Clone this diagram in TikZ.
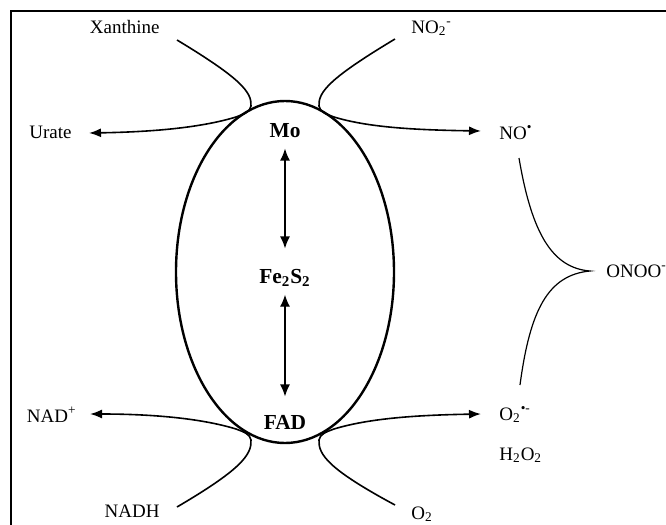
\documentclass[tikz,border=0pt]{standalone}
\usepackage{fontspec}
\setmainfont{Liberation Serif}
\usetikzlibrary{arrows.meta}

\tikzset{
  lbl/.style={inner sep=0pt, font=\fontsize{9.5}{11}\selectfont},
  core/.style={anchor=base, inner sep=0pt, font=\fontsize{10.7}{12}\selectfont\bfseries},
  flow/.style={line width=0.8pt},
  prod/.style={flow, -{Latex[length=6pt,width=4.5pt]}},
  dbl/.style={line width=0.65pt, {Latex[length=6pt,width=5pt]}-{Latex[length=6pt,width=5pt]}},
}

\begin{document}
\begin{tikzpicture}[x=0.5pt,y=-0.5pt]
        \useasboundingbox (0,0) rectangle (666,525);
        % frame
        \draw[line width=1.3pt] (11,525) -- (11,11) -- (666,11);

        % enzyme
        \draw[line width=1.2pt] (285,272) ellipse [x radius=109, y radius=171];
        \coordinate (tl) at (251,106);
        \coordinate (tr) at (319,106);
        \coordinate (bl) at (251,440);
        \coordinate (br) at (319,440);

        \node[core] (mo) at (285,137) {Mo};
        \node[core] (fes) at (285,283) {Fe\textsubscript{2}S\textsubscript{2}};
        \node[core] (fad) at (285,429) {FAD};
        \draw[dbl, shorten <=5.5pt, shorten >=10pt] (mo.south) -- (fes.north);
        \draw[dbl, shorten <=4pt, shorten >=9pt] (fes.south) -- (fad.north);

        % substrates and products
        \node[lbl, anchor=base east] (xan) at (160,33) {Xanthine};
        \node[lbl, anchor=base east] (urate) at (72,138) {Urate};
        \node[lbl, anchor=base west] (no2) at (411,33) {NO\textsubscript{2}\textsuperscript{-}};
        \node[lbl, anchor=base west] (no) at (499,139) {NO\textsuperscript{\textbullet}};
        \node[lbl, anchor=base west] (onoo) at (606,277) {ONOO\textsuperscript{-}};
        \node[lbl, anchor=base east] (nad) at (77,422) {NAD\textsuperscript{+}};
        \node[lbl, anchor=base east] (nadh) at (160,517) {NADH};
        \node[lbl, anchor=base west] (sox) at (499,420) {O\textsubscript{2}\textsuperscript{\textbullet-}};
        \node[lbl, anchor=base west] (hpo) at (499,460) {H\textsubscript{2}O\textsubscript{2}};
        \node[lbl, anchor=base west] (oxy) at (411,519) {O\textsubscript{2}};

        % Mo site
        \draw[prod] ([shift={(17,7)}]xan.base east) .. controls (240,78) and (252,92) .. (tl)
            .. controls (250,112) and (244,114) .. (236,117)
            .. controls (200,128) and (150,132) .. ([shift={(17,-5)}]urate.base east);
        \draw[prod] ([shift={(-16,6)}]no2.base west) .. controls (330,78) and (318,92) .. (tr)
            .. controls (320,112) and (326,114) .. (334,117)
            .. controls (370,128) and (420,130) .. ([shift={(-18,-8)}]no.base west);

        % FAD site
        \draw[prod] ([shift={(17,-10)}]nadh.base east) .. controls (240,470) and (252,455) .. (bl)
            .. controls (250,434) and (244,432) .. (236,429)
            .. controls (200,418) and (150,414) .. ([shift={(13,-8)}]nad.base east);
        \draw[prod] ([shift={(-16,-14)}]oxy.base west) .. controls (330,470) and (318,455) .. (br)
            .. controls (320,434) and (326,432) .. (334,429)
            .. controls (370,418) and (420,415) .. ([shift={(-18,-6)}]sox.base west);

        % peroxynitrite
        \coordinate (cusp) at ([shift={(-16,-6)}]onoo.base west);
        \draw[line width=0.6pt] ([shift={(20,19)}]no.base west) .. controls (532,235) and (553,268) .. (cusp)
            .. controls (548,275) and (530,310) .. ([shift={(21,-35)}]sox.base west);
\end{tikzpicture}
\end{document}
